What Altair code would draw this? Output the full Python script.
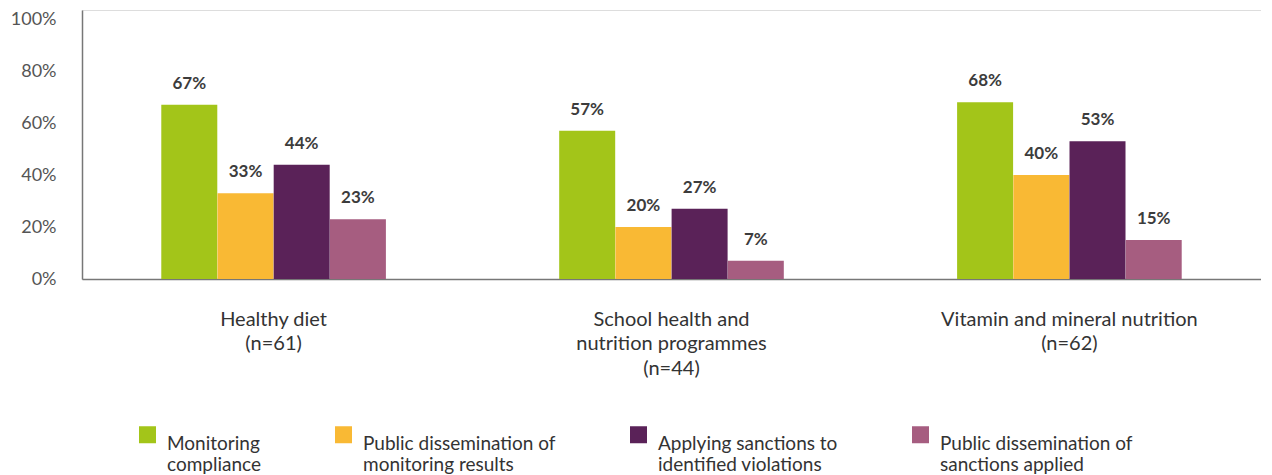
import altair as alt
import pandas as pd

categories = ["Healthy diet|(n=61)",
              "School health and|nutrition programmes|(n=44)",
              "Vitamin and mineral nutrition|(n=62)"]
series = ["Monitoring|compliance",
          "Public dissemination of|monitoring results",
          "Applying sanctions to|identified violations",
          "Public dissemination of|sanctions applied"]
colors = ["#a3c519", "#f9b934", "#5a2258", "#a65d80"]
values = [
    [0.67, 0.33, 0.44, 0.23],
    [0.57, 0.20, 0.27, 0.07],
    [0.68, 0.40, 0.53, 0.15],
]

rows = []
for ci, cat in enumerate(categories):
    for si, s in enumerate(series):
        rows.append({"category": cat, "series": s, "order": si, "value": values[ci][si]})
df = pd.DataFrame(rows)

FONT = "Lato"

x = alt.X("category:N", sort=categories, title=None,
          scale=alt.Scale(paddingInner=0.435, paddingOuter=0.199),
          axis=alt.Axis(labelAngle=0, labelExpr="split(datum.label, '|')",
                        labelFontSize=20, labelColor="#333333", labelFont=FONT,
                        labelLineHeight=24.5, labelPadding=30, ticks=False,
                        domainColor="#777777", domainWidth=1.5, labelLimit=400))

base = alt.Chart(df).encode(
    x=x,
    xOffset=alt.XOffset("series:N", sort=series),
)

bars = base.mark_bar(size=56).encode(
    y=alt.Y("value:Q", title=None,
            scale=alt.Scale(domain=[0, 1.035], nice=False),
            axis=alt.Axis(values=[0, 0.2, 0.4, 0.6, 0.8, 1.0], format=".0%",
                          grid=False, ticks=False, labelPadding=26,
                          labelFontSize=18, labelColor="#555555", labelFont=FONT,
                          domainColor="#777777", domainWidth=1.5)),
    color=alt.Color("series:N", sort=series,
                    scale=alt.Scale(domain=series, range=colors),
                    legend=alt.Legend(title=None, orient="none", legendX=56, legendY=415,
                                      direction="horizontal", symbolType="square",
                                      symbolSize=289, symbolStrokeWidth=0,
                                      labelExpr="split(datum.label, '|')",
                                      labelFontSize=19, labelColor="#333333", labelFont=FONT,
                                      labelBaseline="top",
                                      labelOffset=10, columnPadding=73, labelLimit=400)),
)

labels = base.mark_text(dy=-21, fontSize=17, fontWeight="bold", color="#3c3c3c",
                        font=FONT, baseline="middle").encode(
    y=alt.Y("value:Q"),
    text=alt.Text("value:Q", format=".0%"),
)

chart = alt.layer(bars, labels).properties(
    width=1179, height=269,
    padding={"left": 2, "top": 2, "right": 0, "bottom": 0},
).configure_view(stroke=None).configure(font=FONT)

chart.save("out.html", embed_options={"renderer": "svg", "actions": False})
